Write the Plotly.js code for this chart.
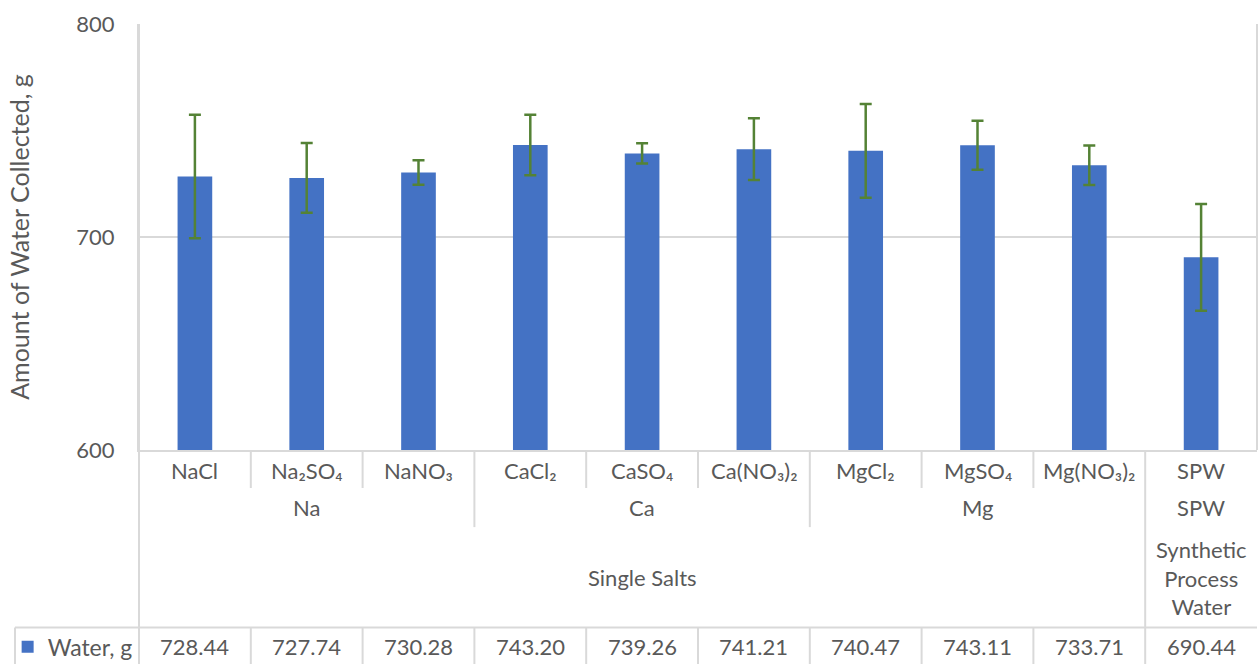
<!DOCTYPE html>
<html>
<head>
<meta charset="utf-8">
<script src="https://cdn.plot.ly/plotly-3.0.1.min.js"></script>
<style>
  html, body { margin: 0; padding: 0; background: #ffffff; }
  #chart { width: 1258px; height: 664px; }
</style>
</head>
<body>
<div id="chart"></div>
<script>
// ---- data ----
const categories = ['NaCl', 'Na₂SO₄', 'NaNO₃', 'CaCl₂', 'CaSO₄', 'Ca(NO₃)₂', 'MgCl₂', 'MgSO₄', 'Mg(NO₃)₂', 'SPW'];
const groups = ['Na', 'Na', 'Na', 'Ca', 'Ca', 'Ca', 'Mg', 'Mg', 'Mg', 'SPW'];
const topLevels = ['Single Salts', 'Single Salts', 'Single Salts', 'Single Salts', 'Single Salts',
                   'Single Salts', 'Single Salts', 'Single Salts', 'Single Salts', 'Synthetic<br>Process<br>Water'];
const water = [728.44, 727.74, 730.28, 743.20, 739.26, 741.21, 740.47, 743.11, 733.71, 690.44];
const waterErr = [29.0, 16.4, 5.7, 14.2, 4.7, 14.5, 22.0, 11.5, 9.3, 25.1];
const seriesName = 'Water, g';
const yTitle = 'Amount of Water Collected, g';

// ---- styles ----
const FONT = 'Lato, "Open Sans", "Noto Sans", sans-serif';
const TXT = '#595959';
const GRID = '#d9d9d9';
const FS = 22;

// y positions (paper) for the category rows / data table below the plot
const ROW1_Y = -0.047, ROW2_Y = -0.136, ROW3_Y = -0.300, TABLE_Y = -0.462;
const ROW1_BOT = -0.0892, ROW2_BOT = -0.181, TABLE_TOP = -0.4167, BOTTOM = -0.52;
const TABLE_LEFT = -0.1109;

const annotations = [];
const shapes = [];

// level 1: category labels
categories.forEach((c, i) => {
  annotations.push({xref: 'x', yref: 'paper', x: i, y: ROW1_Y, text: c, showarrow: false,
    xanchor: 'center', yanchor: 'middle', font: {family: FONT, size: FS, color: TXT}});
});

// helper: spans of equal consecutive values
function spans(arr) {
  const out = [];
  let start = 0;
  for (let i = 1; i <= arr.length; i++) {
    if (i === arr.length || arr[i] !== arr[start]) { out.push({label: arr[start], a: start, b: i - 1}); start = i; }
  }
  return out;
}
spans(groups).forEach(s => {
  annotations.push({xref: 'x', yref: 'paper', x: (s.a + s.b) / 2, y: ROW2_Y, text: s.label, showarrow: false,
    xanchor: 'center', yanchor: 'middle', font: {family: FONT, size: FS, color: TXT}});
});
spans(topLevels).forEach(s => {
  annotations.push({xref: 'x', yref: 'paper', x: (s.a + s.b) / 2, y: ROW3_Y, text: s.label, showarrow: false,
    xanchor: 'center', yanchor: 'middle', font: {family: FONT, size: FS, color: TXT}});
});

// data table values
water.forEach((v, i) => {
  annotations.push({xref: 'x', yref: 'paper', x: i, y: TABLE_Y, text: v.toFixed(2), showarrow: false,
    xanchor: 'center', yanchor: 'middle', font: {family: FONT, size: FS, color: TXT}});
});

// separators between categories
const lineStyle = {color: GRID, width: 2};
for (let i = 0; i < categories.length - 1; i++) {
  let bottom = ROW1_BOT;
  if (topLevels[i] !== topLevels[i + 1]) bottom = BOTTOM;
  else if (groups[i] !== groups[i + 1]) bottom = ROW2_BOT;
  shapes.push({type: 'line', xref: 'x', yref: 'paper', x0: i + 0.5, x1: i + 0.5, y0: 0, y1: bottom, line: lineStyle});
  if (bottom !== BOTTOM) {
    shapes.push({type: 'line', xref: 'x', yref: 'paper', x0: i + 0.5, x1: i + 0.5, y0: TABLE_TOP, y1: BOTTOM, line: lineStyle});
  }
}
// frame lines
shapes.push({type: 'line', xref: 'paper', yref: 'paper', x0: 0, x1: 0, y0: 1, y1: BOTTOM, line: lineStyle});
shapes.push({type: 'line', xref: 'paper', yref: 'paper', x0: 1, x1: 1, y0: 1, y1: 0, line: lineStyle});
shapes.push({type: 'line', xref: 'paper', yref: 'paper', x0: TABLE_LEFT, x1: 1, y0: TABLE_TOP, y1: TABLE_TOP, line: lineStyle});
shapes.push({type: 'line', xref: 'paper', yref: 'paper', x0: TABLE_LEFT, x1: TABLE_LEFT, y0: TABLE_TOP, y1: BOTTOM, line: lineStyle});

const trace = {
  type: 'bar',
  name: seriesName,
  x: categories,
  y: water,
  width: 0.31,
  marker: {color: '#4472c4', line: {width: 0}},
  error_y: {type: 'data', array: waterErr, visible: true, color: '#548235', thickness: 2.5, width: 6},
  showlegend: true,
  hoverinfo: 'x+y'
};

const layout = {
  width: 1258, height: 664,
  margin: {l: 139, r: 1, t: 24, b: 214, autoexpand: false},
  paper_bgcolor: '#ffffff', plot_bgcolor: '#ffffff',
  font: {family: FONT, size: FS, color: TXT},
  showlegend: true,
  legend: {x: -0.1175, y: TABLE_Y, xanchor: 'left', yanchor: 'middle', orientation: 'h',
    font: {family: FONT, size: 23, color: TXT}, bgcolor: 'rgba(0,0,0,0)', itemwidth: 30},
  xaxis: {type: 'category', showticklabels: false, ticks: '', showgrid: false, zeroline: false, automargin: false,
    showline: true, linecolor: GRID, linewidth: 2, range: [-0.5, categories.length - 0.5], fixedrange: true},
  yaxis: {range: [600, 800], dtick: 100, tick0: 600, showgrid: true, gridcolor: GRID, gridwidth: 1.5,
    zeroline: false, showline: true, linecolor: GRID, linewidth: 2, ticks: '', ticklabelstandoff: 18, automargin: false,
    tickfont: {family: FONT, size: FS, color: TXT},
    title: {text: yTitle, font: {family: FONT, size: 25, color: TXT}, standoff: 40}, fixedrange: true},
  annotations: annotations,
  shapes: shapes,
  bargap: 0.69
};

Plotly.newPlot('chart', [trace], layout, {displayModeBar: false, staticPlot: true});
</script>
</body>
</html>
